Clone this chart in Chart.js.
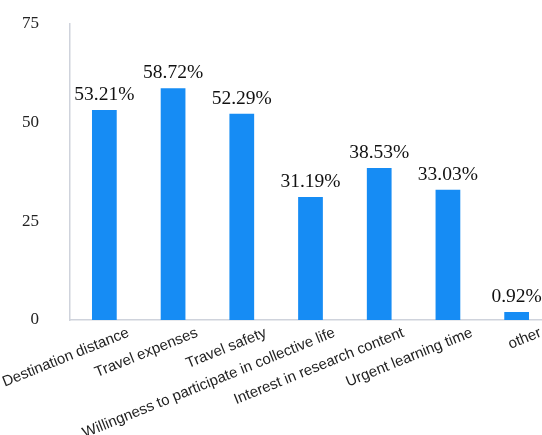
<!DOCTYPE html>
<html>
<head>
<meta charset="utf-8">
<script src="https://cdn.jsdelivr.net/npm/chart.js@4"></script>
<style>
  html, body { margin: 0; padding: 0; background: #fff; overflow: hidden; }
  #wrap { width: 551px; height: 435px; }
</style>
</head>
<body>
<div id="wrap"><canvas id="chart"></canvas></div>
<script>
const categories = [
  "Destination distance",
  "Travel expenses",
  "Travel safety",
  "Willingness to participate in collective life",
  "Interest in research content",
  "Urgent learning time",
  "other"
];
const percentages = [53.21, 58.72, 52.29, 31.19, 38.53, 33.03, 0.92];
const yTicks = [0, 25, 50, 75];

// percent labels on top of each bar
const valueLabels = {
  id: "valueLabels",
  afterDatasetsDraw(chart) {
    const ctx = chart.ctx;
    const meta = chart.getDatasetMeta(0);
    ctx.save();
    ctx.font = "19.5px 'Liberation Serif', serif";
    ctx.fillStyle = "#111";
    ctx.textAlign = "center";
    ctx.textBaseline = "alphabetic";
    meta.data.forEach((bar, i) => {
      ctx.fillText(percentages[i].toFixed(2) + "%", bar.x, bar.y - 10);
    });
    ctx.restore();
  }
};

new Chart(document.getElementById("chart"), {
  type: "bar",
  data: {
    labels: categories,
    datasets: [{
      data: percentages,
      backgroundColor: "#168cf4",
      barPercentage: 0.36,
      categoryPercentage: 1,
      minBarLength: 8
    }]
  },
  options: {
    responsive: true,
    maintainAspectRatio: false,
    animation: false,
    layout: { padding: { top: 24, right: 0, left: 0, bottom: 0 } },
    plugins: { legend: { display: false }, tooltip: { enabled: false } },
    scales: {
      x: {
        grid: { display: false, drawTicks: false },
        border: { display: true, color: "#cfd3dc", width: 1.5 },
        afterFit: (scale) => {
          scale.paddingLeft = 0;
          scale.paddingRight = 0;
          scale.height = 115;
        },
        ticks: {
          color: "#222",
          font: { family: "'Liberation Sans', Arial, sans-serif", size: 15 },
          minRotation: 22,
          maxRotation: 22,
          autoSkip: false,
          labelOffset: 24,
          padding: 4
        }
      },
      y: {
        min: 0,
        max: 75,
        afterBuildTicks: (scale) => { scale.ticks = yTicks.map(v => ({ value: v })); },
        afterFit: (scale) => {
          scale.width = 70;
          scale.paddingTop = 0;
          scale.paddingBottom = 0;
        },
        grid: { display: false },
        border: { display: true, color: "#cfd3dc", width: 1.5 },
        ticks: {
          color: "#222",
          font: { family: "'Liberation Serif', serif", size: 17 },
          padding: 23
        }
      }
    }
  },
  plugins: [valueLabels]
});
</script>
</body>
</html>
